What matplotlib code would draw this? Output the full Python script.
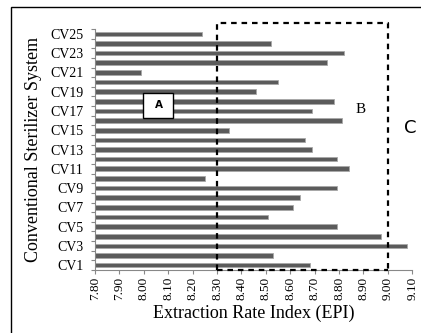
import matplotlib
matplotlib.use("Agg")
import matplotlib.pyplot as plt
from matplotlib.patches import Rectangle
import matplotlib.transforms as mtransforms

categories = [f"CV{i}" for i in range(1, 26)]
values = [8.68, 8.53, 9.08, 8.97, 8.79, 8.51, 8.61, 8.64, 8.79, 8.25,
          8.84, 8.79, 8.69, 8.66, 8.35, 8.81, 8.69, 8.78, 8.46, 8.55,
          7.99, 8.75, 8.82, 8.52, 8.24]
xticks = [7.80 + 0.1 * i for i in range(14)]
region_b = (8.30, 9.00)

plt.rcParams['font.family'] = ['Liberation Serif', 'DejaVu Serif']

fig = plt.figure(figsize=(4.21, 3.33), dpi=100)
ax = fig.add_axes([0.2257, 0.1892, 0.7536, 0.7237])

y = list(range(len(categories)))
base = 7.80
ax.barh(y, [v - base for v in values], left=base, height=0.48,
        color='#5b5b5b', edgecolor='#a8a8a8', linewidth=0.6, zorder=2)

ax.set_xlim(7.80, 9.10)
ax.set_ylim(-0.5, 24.5)
ax.set_xticks(xticks)
ax.set_xticklabels([f"{t:.2f}" for t in xticks], rotation=90, fontsize=9.5)
ax.set_yticks(y[::2])
ax.set_yticklabels(categories[::2], fontsize=10)
ax.set_yticks([i - 0.5 for i in range(26)], minor=True)
ax.tick_params(axis='y', which='major', length=0, pad=8.5)
ax.tick_params(axis='y', which='minor', length=3, width=0.8, color='#888888')
ax.tick_params(axis='x', which='major', length=3, width=0.8, color='#888888', pad=2)
ax.spines['top'].set_visible(False)
ax.spines['right'].set_visible(False)
ax.spines['left'].set_color('#888888')
ax.spines['bottom'].set_color('#888888')
ax.set_xlabel("Extraction Rate Index (EPI)", fontsize=13, labelpad=3)
ax.set_ylabel("Conventional Sterilizer System", fontsize=13, labelpad=6)

trans = mtransforms.blended_transform_factory(ax.transData, ax.transAxes)
x0, x1 = region_b
top = 1.025
ax.plot([x0, x0, x1, x1], [0, top, top, 0], transform=trans, color='black',
        lw=1.6, linestyle=(0, (2.5, 2.2)), clip_on=False, zorder=4)
ax.plot([x0, x1], [0, 0], transform=trans, color='black',
        lw=1.6, linestyle=(0, (2.5, 2.2)), clip_on=False, zorder=4)

# Box A
ax.add_patch(Rectangle((7.998, 0.63), 0.123, 0.106, transform=trans,
                       facecolor='white', edgecolor='black', lw=1.0, zorder=5))
ax.text(8.06, 0.683, "A", transform=trans, ha='center', va='center',
        fontsize=7.5, fontweight='bold', family=['DejaVu Sans'], zorder=6)
ax.text(8.89, 0.668, "B", transform=trans, ha='center', va='center', fontsize=11)
ax.text(9.09, 0.588, "C", transform=trans, ha='center', va='center',
        fontsize=13, family=['DejaVu Sans'])

# figure frame
fig.patches.append(Rectangle((11 / 421, -0.1), 2.0, (333 - 7) / 333 + 0.1,
                             transform=fig.transFigure, fill=False,
                             edgecolor='black', lw=1.0))

fig.savefig("out.png", dpi=100)
